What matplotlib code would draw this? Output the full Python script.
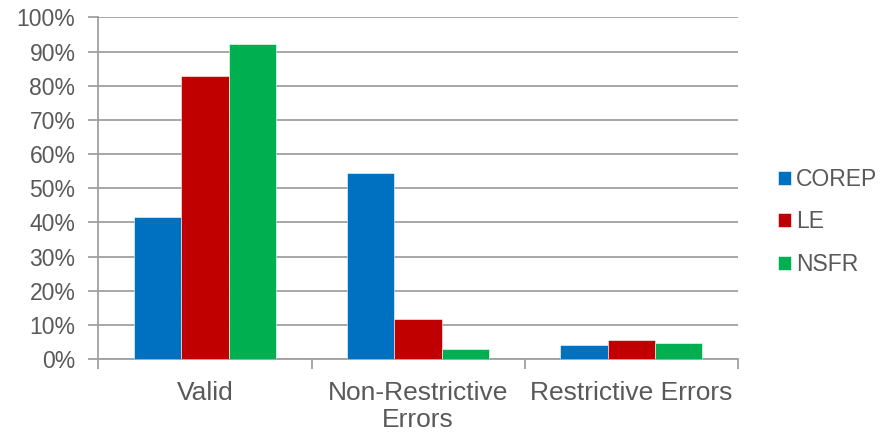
import matplotlib.pyplot as plt
import numpy as np

plt.rcParams['font.family'] = ['Liberation Sans', 'DejaVu Sans']

categories = ["Valid", "Non-Restrictive\nErrors", "Restrictive Errors"]
series = ["COREP", "LE", "NSFR"]
corep = [41.6, 54.4, 4.0]
le = [82.8, 11.6, 5.5]
nsfr = [92.2, 3.0, 4.6]
colors = ["#0070C0", "#C00000", "#00B050"]

grey = "#A0A0A0"
text_col = "#595959"

fig = plt.figure(figsize=(8.96, 4.32), dpi=100)
ax = fig.add_axes([98.3 / 896, 1 - 359 / 432, (738 - 98.3) / 896, (359 - 17.5) / 432])

x = np.arange(len(categories))
w = 1 / 4.5  # gap of 150% of a bar width
for i, (vals, name) in enumerate(zip([corep, le, nsfr], series)):
    ax.bar(x + (i - 1) * w, vals, width=w, color=colors[i], label=name,
           edgecolor="white", linewidth=0.4, zorder=3)

ax.set_xlim(-0.5, 2.5)
ax.set_ylim(0, 100)
ax.set_yticks(range(0, 101, 10))
ax.set_yticklabels([f"{v}%" for v in range(0, 101, 10)])
ax.yaxis.grid(True, color=grey, linewidth=1.3, zorder=0)

ax.set_xticks(x)
ax.set_xticklabels(categories, linespacing=1.15)
ax.set_xticks([-0.5, 0.5, 1.5, 2.5], minor=True)
ax.tick_params(axis="x", which="major", length=0, pad=16, labelsize=19)
ax.tick_params(axis="x", which="minor", length=7, width=1.3, color=grey)
ax.tick_params(axis="y", length=7, width=1.3, color=grey, pad=9.5, labelsize=16.5)
ax.tick_params(labelcolor=text_col)

for s in ["top", "right"]:
    ax.spines[s].set_visible(False)
for s in ["left", "bottom"]:
    ax.spines[s].set_color(grey)
    ax.spines[s].set_linewidth(1.3)

leg = ax.legend(loc="center left", bbox_to_anchor=(769 / 896, 1 - 222 / 432),
                bbox_transform=fig.transFigure, frameon=False, fontsize=16.5,
                handlelength=0.57, handleheight=0.57, handletextpad=0.22,
                labelspacing=0.85, borderaxespad=0)
for t in leg.get_texts():
    t.set_color(text_col)

fig.savefig("out.png", dpi=100)
